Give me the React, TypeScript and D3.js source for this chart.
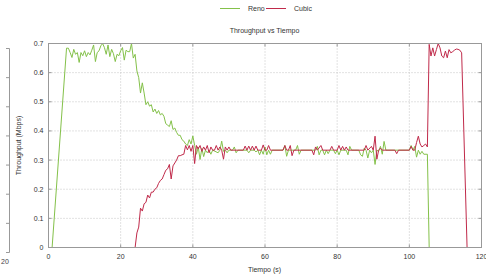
import React from 'react';
import * as d3 from 'd3';

// [tiempo (s), throughput (Mbps)]
const reno: [number, number][] = [
  [0, 0], [1, 0], [5, 0.684], [5.5, 0.684], [6, 0.669], [6.5, 0.652], [7, 0.68], [7.5, 0.663],
  [8, 0.669], [8.5, 0.635], [9, 0.669], [9.5, 0.658], [10, 0.675], [10.5, 0.655], [11, 0.669],
  [11.5, 0.661], [12, 0.677], [12.5, 0.695], [13, 0.638], [13.5, 0.669], [14, 0.675], [14.5, 0.692],
  [15, 0.7], [15.5, 0.686], [16, 0.663], [16.5, 0.695], [17, 0.655], [17.5, 0.68], [18, 0.665],
  [18.5, 0.638], [19, 0.663], [19.5, 0.658], [20, 0.675], [20.5, 0.686], [21, 0.643], [21.5, 0.677],
  [22, 0.672], [22.5, 0.672], [23, 0.7], [23.5, 0.65], [24, 0.663], [24.5, 0.606], [25, 0.583],
  [25.5, 0.53], [26, 0.565], [26.5, 0.53], [27, 0.49], [27.5, 0.5], [28, 0.485], [28.5, 0.49],
  [29, 0.465], [29.5, 0.475], [30, 0.46], [30.5, 0.47], [31, 0.455], [31.5, 0.46], [32, 0.45],
  [32.5, 0.425], [33, 0.42], [33.5, 0.415], [34, 0.435], [34.5, 0.405], [35, 0.41], [35.5, 0.395],
  [36, 0.385], [36.5, 0.385], [37, 0.37], [37.5, 0.365], [38, 0.355], [38.5, 0.35], [39, 0.37],
  [39.5, 0.355], [40, 0.383], [40.5, 0.35], [41, 0.32], [41.5, 0.345], [42, 0.302], [42.5, 0.34],
  [43, 0.312], [43.5, 0.334], [44, 0.325], [44.5, 0.334], [45, 0.32], [45.5, 0.334], [47, 0.325],
  [47.5, 0.334], [48, 0.365], [48.5, 0.33], [49, 0.334], [49.5, 0.325], [50, 0.334], [51, 0.334],
  [51.5, 0.345], [52, 0.325], [52.5, 0.334], [55, 0.334], [55.5, 0.325], [56, 0.334], [57, 0.334],
  [57.5, 0.328], [58, 0.334], [58.5, 0.318], [59, 0.334], [59.5, 0.32], [60, 0.345], [60.5, 0.318],
  [61, 0.334], [61.5, 0.32], [62, 0.334], [65, 0.334], [65.5, 0.35], [66, 0.313], [66.5, 0.334],
  [68.5, 0.334], [69, 0.35], [69.5, 0.32], [70, 0.334], [74, 0.334], [74.5, 0.347], [75, 0.318],
  [75.5, 0.334], [76, 0.334], [76.5, 0.318], [77, 0.334], [77.5, 0.322], [78, 0.334], [79, 0.334],
  [79.5, 0.322], [80, 0.334], [80.5, 0.318], [81, 0.334], [82.5, 0.334], [83, 0.318], [83.5, 0.347],
  [84, 0.334], [86, 0.334], [86.5, 0.318], [87, 0.313], [87.5, 0.341], [88, 0.334], [88.5, 0.307],
  [89, 0.334], [89.5, 0.325], [90, 0.334], [90.5, 0.285], [91, 0.334], [91.5, 0.33], [92, 0.347],
  [92.5, 0.32], [93, 0.364], [93.5, 0.334], [100, 0.334], [100.5, 0.35], [101, 0.334],
  [101.5, 0.347], [102, 0.31], [102.5, 0.334], [103, 0.32], [103.5, 0.33], [104, 0.32], [105, 0.32],
  [105.5, 0], [116, 0],
];

const cubic: [number, number][] = [
  [0, 0], [24, 0], [24.5, 0.05], [25, 0.07], [25.5, 0.135], [26, 0.125], [26.5, 0.15], [27, 0.155],
  [27.5, 0.18], [28, 0.17], [28.5, 0.19], [29, 0.19], [29.5, 0.2], [30, 0.205], [30.5, 0.22],
  [31, 0.23], [31.5, 0.235], [32, 0.25], [32.5, 0.265], [33, 0.27], [33.5, 0.285], [34, 0.235],
  [34.5, 0.28], [35, 0.29], [35.5, 0.3], [36, 0.315], [36.5, 0.315], [37, 0.318], [37.5, 0.32],
  [38, 0.35], [38.5, 0.335], [39, 0.35], [39.5, 0.33], [40, 0.35], [40.5, 0.288], [41, 0.35],
  [41.5, 0.338], [42, 0.35], [42.5, 0.33], [43, 0.345], [43.5, 0.334], [44, 0.35], [44.5, 0.325],
  [45, 0.345], [45.5, 0.334], [46, 0.334], [46.5, 0.35], [47, 0.334], [47.5, 0.345], [48, 0.334],
  [48.5, 0.303], [49, 0.345], [49.5, 0.334], [50, 0.345], [50.5, 0.334], [54, 0.334], [54.5, 0.348],
  [55, 0.334], [55.5, 0.348], [56, 0.334], [56.5, 0.348], [57, 0.334], [57.5, 0.348], [58, 0.334],
  [59, 0.334], [59.5, 0.352], [60, 0.334], [60.5, 0.334], [61, 0.35], [61.5, 0.334], [65, 0.334],
  [65.5, 0.35], [66, 0.334], [66.5, 0.334], [67, 0.35], [67.5, 0.315], [68, 0.334], [73, 0.334],
  [73.5, 0.318], [74, 0.345], [74.5, 0.334], [75.5, 0.35], [76, 0.334], [78, 0.334], [78.5, 0.347],
  [79, 0.334], [80, 0.334], [80.5, 0.35], [81, 0.334], [81.5, 0.347], [82, 0.334], [82.5, 0.345],
  [83, 0.334], [87.5, 0.334], [88, 0.35], [88.5, 0.334], [89.5, 0.347], [90, 0.334], [90.5, 0.382],
  [91, 0.303], [91.5, 0.334], [92, 0.341], [92.5, 0.334], [96, 0.334], [96.5, 0.322], [97, 0.334],
  [100, 0.334], [100.5, 0.347], [101, 0.334], [101.5, 0.334], [102, 0.36], [102.5, 0.382],
  [103, 0.355], [103.5, 0.345], [104, 0.35], [104.5, 0.355], [105, 0.345], [105.5, 0.697],
  [106, 0.657], [106.5, 0.685], [107, 0.657], [107.5, 0.679], [108, 0.7], [108.5, 0.685],
  [109, 0.657], [109.5, 0.651], [110, 0.674], [110.5, 0.651], [111, 0.679], [111.5, 0.668],
  [112, 0.672], [112.5, 0.677], [113, 0.681], [113.5, 0.68], [114, 0.677], [114.5, 0.668], [116, 0],
];

const xTicks = [0, 20, 40, 60, 80, 100, 120];
const yTicks = [0, 0.1, 0.2, 0.3, 0.4, 0.5, 0.6, 0.7];

const series = [
  { name: 'Reno', data: reno, color: '#84c14a' },
  { name: 'Cubic', data: cubic, color: '#c02a4a' },
];

const W = 486, H = 279;
const FONT = '"Liberation Sans", Arial, sans-serif';

export default function App() {
  const x = d3.scaleLinear().domain([0, 120]).range([48.5, 481.5]);
  const y = d3.scaleLinear().domain([0, 0.7]).range([247.5, 43.5]);
  // the neighbouring chart, cut off at the left edge
  const yLeft = d3.scaleLinear().domain([0, 0.7]).range([252.5, 48.5]);

  const line = d3.line<[number, number]>()
    .x(d => x(d[0]))
    .y(d => y(d[1]));

  return (
    <svg width={W} height={H} style={{ position: 'absolute', left: 0, top: 0, background: '#fff' }}
      fontFamily={FONT}>
      {/* neighbour chart edge */}
      <line x1={9.5} x2={9.5} y1={yLeft(0.7)} y2={yLeft(0)} stroke="#999" />
      {yTicks.map(t => (
        <line key={'lt' + t} x1={6} x2={9.5} y1={yLeft(t)} y2={yLeft(t)} stroke="#999" />
      ))}
      <text x={1} y={264} fontSize={7} fill="#444">20</text>

      {/* legend */}
      {series.map((s, i) => (
        <g key={s.name} transform={`translate(${220 + i * 46},8)`}>
          <line x1={0} x2={20} y1={0.5} y2={0.5} stroke={s.color} />
          <text x={28} y={3} fontSize={7} fill="#333">{s.name}</text>
        </g>
      ))}

      <text x={264.5} y={33} fontSize={7} fill="#333" textAnchor="middle">Throughput vs Tiempo</text>

      {/* grid */}
      {xTicks.slice(1, -1).map(t => (
        <line key={'gx' + t} x1={x(t)} x2={x(t)} y1={y(0)} y2={y(0.7)}
          stroke="#c4c4c4" strokeDasharray="1,2" />
      ))}
      {yTicks.slice(1, -1).map(t => (
        <line key={'gy' + t} x1={x(0)} x2={x(120)} y1={y(t)} y2={y(t)}
          stroke="#c4c4c4" strokeDasharray="1,2" />
      ))}

      {/* ticks, inward and mirrored */}
      {xTicks.map(t => (
        <g key={'tx' + t}>
          <line x1={x(t)} x2={x(t)} y1={y(0)} y2={y(0) - 3} stroke="#999" />
          <line x1={x(t)} x2={x(t)} y1={y(0.7)} y2={y(0.7) + 3} stroke="#999" />
          <text x={x(t)} y={259} fontSize={7} fill="#333" textAnchor="middle">{t}</text>
        </g>
      ))}
      {yTicks.map(t => (
        <g key={'ty' + t}>
          <line x1={x(0)} x2={x(0) + 3} y1={y(t)} y2={y(t)} stroke="#999" />
          <line x1={x(120)} x2={x(120) - 3} y1={y(t)} y2={y(t)} stroke="#999" />
          <text x={43.5} y={y(t) + 2.5} fontSize={7} fill="#333" textAnchor="end">
            {t === 0 ? '0' : d3.format('.1f')(t)}
          </text>
        </g>
      ))}

      {series.map(s => (
        <path key={s.name} d={line(s.data) ?? ''} fill="none" stroke={s.color} strokeWidth={1}
          strokeLinejoin="round" />
      ))}

      <rect x={x(0)} y={y(0.7)} width={x(120) - x(0)} height={y(0) - y(0.7)}
        fill="none" stroke="#999" />

      <text transform={`translate(20.5,${(y(0) + y(0.7)) / 2}) rotate(-90)`} fontSize={7} fill="#333"
        textAnchor="middle">Throughput (Mbps)</text>
      <text x={264.5} y={272} fontSize={7} fill="#333" textAnchor="middle">Tiempo (s)</text>
    </svg>
  );
}
